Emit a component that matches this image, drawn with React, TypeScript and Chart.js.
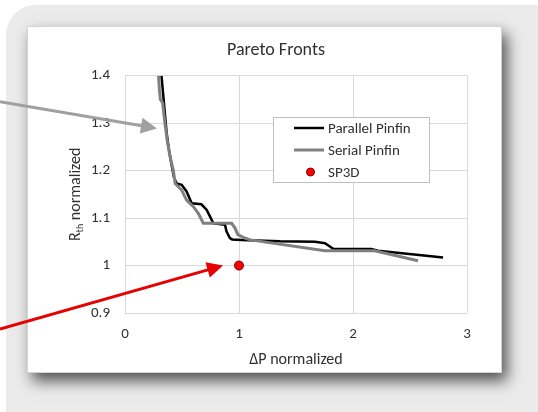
import { useEffect, useRef } from 'react';
import { Chart, registerables } from 'chart.js';

Chart.register(...registerables);

const chartTitle = 'Pareto Fronts';
const xAxisTitle = 'ΔP normalized';
const yAxisTitleMain = 'R';
const yAxisTitleSub = 'th';
const yAxisTitleRest = ' normalized';
const xTicks = [0, 1, 2, 3];
const yTicks = [0.9, 1, 1.1, 1.2, 1.3, 1.4];

const parallelLabel = 'Parallel Pinfin';
const parallelX = [0.32, 0.335, 0.35, 0.365, 0.385, 0.41, 0.43, 0.453, 0.497, 0.54, 0.585, 0.67, 0.717, 0.746, 0.775, 0.877, 0.89, 0.92, 0.94, 1.02, 1.36, 1.667, 1.754, 1.83, 2.16, 2.22, 2.79];
const parallelY = [1.4, 1.36, 1.32, 1.28, 1.245, 1.21, 1.185, 1.173, 1.17, 1.156, 1.131, 1.129, 1.117, 1.103, 1.089, 1.086, 1.072, 1.058, 1.055, 1.054, 1.051, 1.05, 1.047, 1.035, 1.035, 1.031, 1.017];

const serialLabel = 'Serial Pinfin';
const serialX = [0.294, 0.302, 0.31, 0.33, 0.35, 0.372, 0.395, 0.424, 0.44, 0.497, 0.54, 0.6, 0.643, 0.687, 0.936, 0.965, 0.99, 1.05, 1.1, 1.754, 2.19, 2.57];
const serialY = [1.4, 1.37, 1.35, 1.343, 1.3, 1.26, 1.23, 1.2, 1.173, 1.159, 1.138, 1.124, 1.11, 1.089, 1.089, 1.079, 1.065, 1.058, 1.054, 1.031, 1.031, 1.01];

const sp3dLabel = 'SP3D';
const sp3dX = [1];
const sp3dY = [1];

// arrow annotation tips (data coordinates)
const grayArrowTip = { x: 0.28, y: 1.289 };
const redArrowTip = { x: 0.86, y: 1.0 };

const FONT = "Carlito, Lato, 'Open Sans', sans-serif";
const TEXT = '#303030';

function toPoints(xs: number[], ys: number[]) {
  return xs.map((x, i) => ({ x, y: ys[i] }));
}

function drawArrow(ctx: CanvasRenderingContext2D, x0: number, y0: number, x1: number, y1: number, color: string) {
  const ang = Math.atan2(y1 - y0, x1 - x0);
  const headLen = 16;
  const headW = 8;
  const bx = x1 - headLen * Math.cos(ang);
  const by = y1 - headLen * Math.sin(ang);
  ctx.save();
  ctx.strokeStyle = color;
  ctx.fillStyle = color;
  ctx.lineWidth = 3;
  ctx.beginPath();
  ctx.moveTo(x0, y0);
  ctx.lineTo(bx + 2 * Math.cos(ang), by + 2 * Math.sin(ang));
  ctx.stroke();
  ctx.beginPath();
  ctx.moveTo(x1, y1);
  ctx.lineTo(bx + headW * Math.sin(ang), by - headW * Math.cos(ang));
  ctx.lineTo(bx - headW * Math.sin(ang), by + headW * Math.cos(ang));
  ctx.closePath();
  ctx.fill();
  ctx.restore();
}

const decorPlugin = {
  id: 'decor',
  beforeDraw(chart: any) {
    const { ctx, width, height } = chart;
    ctx.save();
    ctx.fillStyle = '#ffffff';
    ctx.fillRect(0, 0, width, height);
    ctx.fillStyle = '#ebebeb';
    ctx.beginPath();
    (ctx as any).roundRect(6, 5, width + 40, height + 40, 30);
    ctx.fill();
    ctx.shadowColor = 'rgba(0,0,0,0.65)';
    ctx.shadowBlur = 14;
    ctx.shadowOffsetX = 5;
    ctx.shadowOffsetY = 8;
    ctx.fillStyle = '#ffffff';
    ctx.fillRect(27, 26, 475, 347);
    ctx.shadowColor = 'transparent';
    ctx.strokeStyle = '#d4d4d4';
    ctx.lineWidth = 1;
    ctx.strokeRect(27.5, 26.5, 474, 346);
    ctx.restore();
  },
  afterDraw(chart: any) {
    const { ctx, chartArea } = chart;
    const xs = chart.scales.x;
    const ys = chart.scales.y;
    // y axis title with subscript
    ctx.save();
    ctx.translate(75.5, (chartArea.top + chartArea.bottom) / 2);
    ctx.rotate(-Math.PI / 2);
    const fMain = `16px ${FONT}`;
    const fSub = `10px ${FONT}`;
    ctx.font = fMain;
    const wR = ctx.measureText(yAxisTitleMain).width;
    const wRest = ctx.measureText(yAxisTitleRest).width;
    ctx.font = fSub;
    const wSub = ctx.measureText(yAxisTitleSub).width;
    const total = wR + wSub + wRest;
    let x = -total / 2;
    ctx.fillStyle = TEXT;
    ctx.textBaseline = 'middle';
    ctx.textAlign = 'left';
    ctx.font = fMain;
    ctx.fillText(yAxisTitleMain, x, 0);
    x += wR;
    ctx.font = fSub;
    ctx.fillText(yAxisTitleSub, x, 5);
    x += wSub;
    ctx.font = fMain;
    ctx.fillText(yAxisTitleRest, x, 0);
    ctx.restore();

    // legend
    ctx.save();
    ctx.fillStyle = '#ffffff';
    ctx.fillRect(273, 117, 157, 66);
    ctx.strokeStyle = '#bfbfbf';
    ctx.lineWidth = 1;
    ctx.strokeRect(273.5, 117.5, 156, 65);
    const items = chart.data.datasets;
    const rows = [128, 150, 172];
    ctx.font = `15px ${FONT}`;
    ctx.textBaseline = 'middle';
    ctx.textAlign = 'left';
    items.forEach((ds: any, i: number) => {
      const y = rows[i];
      if (ds.showLine) {
        ctx.strokeStyle = ds.borderColor;
        ctx.lineWidth = ds.borderWidth;
        ctx.beginPath();
        ctx.moveTo(294, y);
        ctx.lineTo(324, y);
        ctx.stroke();
      } else {
        ctx.fillStyle = ds.pointBackgroundColor;
        ctx.strokeStyle = ds.pointBorderColor;
        ctx.lineWidth = 1;
        ctx.beginPath();
        ctx.arc(310.5, y, 4, 0, Math.PI * 2);
        ctx.fill();
        ctx.stroke();
      }
      ctx.fillStyle = TEXT;
      ctx.fillText(ds.label, 328, y + 1);
    });
    ctx.restore();

    // annotation arrows
    drawArrow(ctx, 0, 101.7, xs.getPixelForValue(grayArrowTip.x), ys.getPixelForValue(grayArrowTip.y), '#a0a0a0');
    drawArrow(ctx, 0, 329, xs.getPixelForValue(redArrowTip.x), ys.getPixelForValue(redArrowTip.y), '#e60000');
  },
};

export default function App() {
  const ref = useRef<HTMLCanvasElement>(null);
  useEffect(() => {
    if (!ref.current) return;
    const chart = new Chart(ref.current, {
      type: 'scatter',
      data: {
        datasets: [
          {
            label: parallelLabel,
            data: toPoints(parallelX, parallelY),
            showLine: true,
            borderColor: '#000000',
            backgroundColor: '#000000',
            borderWidth: 2.5,
            pointRadius: 0,
            tension: 0,
            order: 2,
          },
          {
            label: serialLabel,
            data: toPoints(serialX, serialY),
            showLine: true,
            borderColor: '#808080',
            backgroundColor: '#808080',
            borderWidth: 3,
            pointRadius: 0,
            tension: 0,
            order: 1,
          },
          {
            label: sp3dLabel,
            data: toPoints(sp3dX, sp3dY),
            showLine: false,
            pointRadius: 4.5,
            pointBackgroundColor: '#ff0000',
            pointBorderColor: '#7a0000',
            pointBorderWidth: 1,
            backgroundColor: '#ff0000',
            borderColor: '#7a0000',
            order: 0,
          } as any,
        ],
      },
      options: {
        responsive: false,
        animation: false,
        devicePixelRatio: 1,
        layout: { padding: { left: 85, right: 71, top: 39, bottom: 44 } },
        plugins: {
          legend: { display: false },
          tooltip: { enabled: false },
          title: {
            display: true,
            text: chartTitle,
            color: TEXT,
            font: { family: FONT, size: 18, weight: 'normal', lineHeight: 1.333 },
            padding: { top: 0, bottom: 12.7 },
          },
        },
        scales: {
          x: {
            type: 'linear',
            min: 0,
            max: 3,
            afterBuildTicks: (s: any) => {
              s.ticks = xTicks.map((v) => ({ value: v }));
            },
            afterFit: (s: any) => {
              s.height = 55;
            },
            grid: { color: '#d9d9d9', drawTicks: false },
            border: { display: false },
            ticks: {
              padding: 12,
              color: TEXT,
              font: { family: FONT, size: 15 },
              callback: (v: any) => String(+Number(v).toFixed(1)),
            },
            title: {
              display: true,
              text: xAxisTitle,
              color: TEXT,
              padding: 0,
              font: { family: FONT, size: 16, lineHeight: 1.0 },
            },
          },
          y: {
            type: 'linear',
            min: 0.9,
            max: 1.4,
            afterBuildTicks: (s: any) => {
              s.ticks = yTicks.map((v) => ({ value: v }));
            },
            afterFit: (s: any) => {
              s.width = 40;
            },
            grid: { color: '#d9d9d9', drawTicks: false },
            border: { display: false },
            ticks: {
              padding: 15,
              color: TEXT,
              font: { family: FONT, size: 15 },
              callback: (v: any) => String(+Number(v).toFixed(1)),
            },
          },
        },
      },
      plugins: [decorPlugin],
    });
    return () => chart.destroy();
  }, []);
  return (
    <div style={{ position: 'absolute', left: 0, top: 0, width: 538, height: 412 }}>
      <canvas ref={ref} width={538} height={412} style={{ width: 538, height: 412, display: 'block' }} />
    </div>
  );
}
